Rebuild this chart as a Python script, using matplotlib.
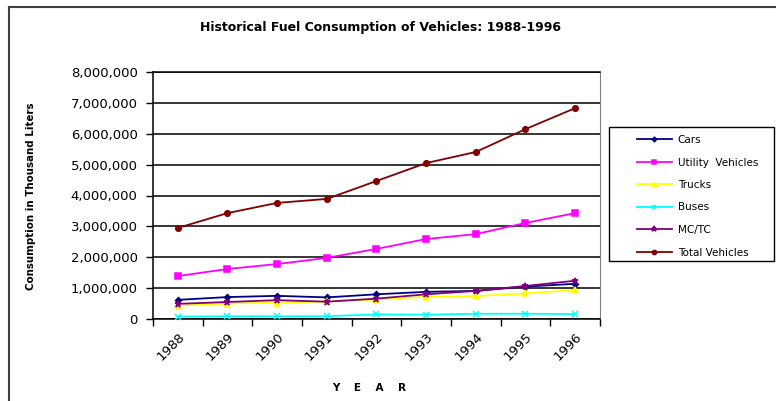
import matplotlib
matplotlib.use('Agg')
import matplotlib.pyplot as plt
from matplotlib.lines import Line2D
from matplotlib.patches import Rectangle
from matplotlib.ticker import FuncFormatter, MultipleLocator, FixedLocator

# data (thousand liters)
years = ['1988', '1989', '1990', '1991', '1992', '1993', '1994', '1995', '1996']
cars = [620000, 710000, 750000, 700000, 800000, 880000, 910000, 1050000, 1140000]
utility = [1390000, 1620000, 1780000, 1980000, 2270000, 2590000, 2750000, 3110000, 3430000]
trucks = [430000, 500000, 530000, 570000, 630000, 720000, 740000, 830000, 940000]
buses = [80000, 90000, 90000, 90000, 150000, 140000, 170000, 170000, 160000]
mctc = [490000, 550000, 610000, 560000, 660000, 800000, 910000, 1070000, 1240000]
total = [2950000, 3430000, 3760000, 3890000, 4470000, 5050000, 5410000, 6150000, 6830000]

series = [
    ('Cars', cars, '#000080', 'D', 3),
    ('Utility  Vehicles', utility, '#FF00FF', 's', 4.2),
    ('Trucks', trucks, '#FFFF00', '^', 4.2),
    ('Buses', buses, '#00FFFF', 'x', 4),
    ('MC/TC', mctc, '#800080', '*', 5),
    ('Total Vehicles', total, '#800000', 'o', 4),
]

W, H = 776, 401
fig = plt.figure(figsize=(W / 100, H / 100), dpi=100)
ax = fig.add_axes([153 / W, 1 - 319 / H, (600 - 153) / W, (319 - 72) / H])

x = list(range(len(years)))
for name, vals, col, mk, ms in series:
    ax.plot(x, vals, color=col, marker=mk, markersize=ms, linewidth=1.3,
            markeredgecolor=col, markerfacecolor=col, markeredgewidth=1.1,
            label=name, zorder=3)

ax.set_xlim(-0.5, len(years) - 0.5)
ax.set_ylim(0, 8000000)
ax.yaxis.set_major_locator(MultipleLocator(1000000))
ax.yaxis.set_major_formatter(FuncFormatter(lambda v, p: f'{int(v):,}'))
ax.grid(axis='y', color='black', linewidth=1.1, zorder=1)

ax.set_xticks(x)
ax.set_xticklabels(years, rotation=45, ha='right', rotation_mode='anchor')
ax.xaxis.set_minor_locator(FixedLocator([i - 0.5 for i in range(len(years) + 1)]))
ax.tick_params(axis='x', which='major', length=0, labelsize=9.5, pad=8)
ax.tick_params(axis='x', which='minor', length=5, width=1, direction='out')
ax.tick_params(axis='y', length=5, width=1, labelsize=9.5, pad=6)

for side in ['left', 'bottom', 'top']:
    ax.spines[side].set_color('black')
    ax.spines[side].set_linewidth(1.1)
ax.spines['right'].set_color('#808080')

fig.text(380 / W, 1 - 27 / H, 'Historical Fuel Consumption of Vehicles: 1988-1996',
         ha='center', va='center', fontsize=9, fontweight='bold')
fig.text(31 / W, 1 - 196 / H, 'Consumption in Thousand Liters', rotation=90,
         ha='center', va='center', fontsize=7.4, fontweight='bold')
fig.text(369 / W, 1 - 388 / H, 'Y    E    A    R', ha='center', va='center',
         fontsize=7.5, fontweight='bold')

# legend: frame drawn separately so the left padding matches
fig.add_artist(Rectangle((609 / W, 1 - 261 / H), (774 - 609) / W, (261 - 127) / H,
                         transform=fig.transFigure, fill=False,
                         edgecolor='black', linewidth=1.0))
leg = fig.legend(loc='upper left', bbox_to_anchor=(637 / W, 1 - 135 / H),
                 fontsize=7.5, frameon=False, borderpad=0, borderaxespad=0,
                 handlelength=3.35, labelspacing=1.2,
                 handletextpad=0.55, markerscale=0.75)

# outer chart border (only left and top edges visible)
fig.add_artist(Line2D([8.5 / W, 8.5 / W], [0, 1 - 7 / H], transform=fig.transFigure,
                      color='#404040', linewidth=1.5))
fig.add_artist(Line2D([8.5 / W, 1], [1 - 7 / H, 1 - 7 / H], transform=fig.transFigure,
                      color='#404040', linewidth=1.5))

fig.savefig('out.png', dpi=100)
